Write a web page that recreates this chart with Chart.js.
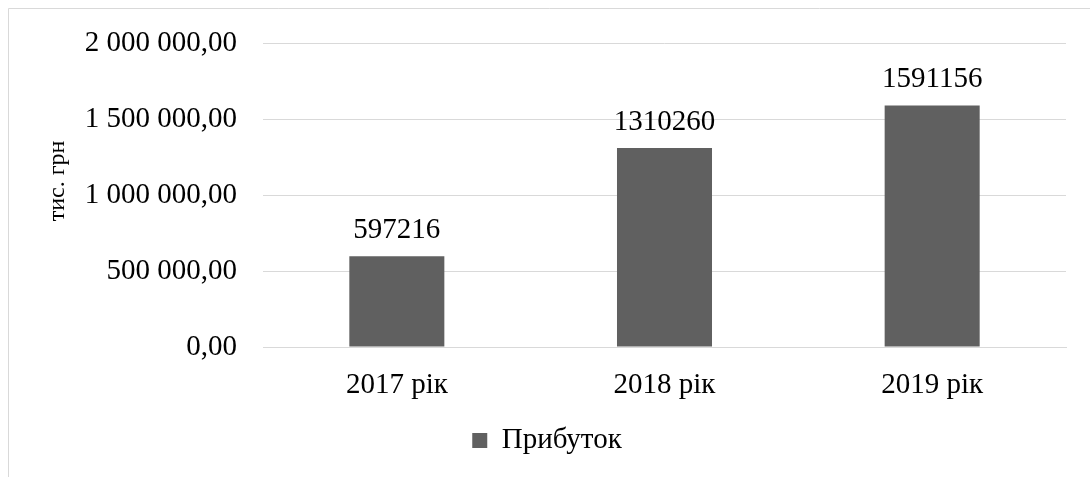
<!DOCTYPE html>
<html>
<head>
<meta charset="utf-8">
<script src="https://cdn.jsdelivr.net/npm/chart.js@4/dist/chart.umd.min.js"></script>
<style>
  html, body { margin: 0; padding: 0; background: #ffffff; overflow: hidden; }
  #wrap { position: relative; width: 1090px; height: 477px; }
</style>
</head>
<body>
<div id="wrap"><canvas id="chart" width="1090" height="477"></canvas></div>
<script>
// Profit by year, thousand UAH
const categories = ['2017 рік', '2018 рік', '2019 рік'];
const profit = [597216, 1310260, 1591156];
const seriesName = 'Прибуток';
const axisTitle = 'тис. грн';
const yMin = 0;
const yMax = 2000000;
const yStep = 500000;

const FONT = '"Liberation Serif", "Times New Roman", serif';
const GRID = '#d9d9d9';
const BAR = '#606060';

function fmtTick(v) {
  return Math.round(v).toString().replace(/\B(?=(\d{3})+(?!\d))/g, ' ') + ',00';
}

// Thin frame along the top and left edges
const framePlugin = {
  id: 'frame',
  beforeDraw(chart) {
    const ctx = chart.ctx;
    ctx.save();
    ctx.fillStyle = '#ffffff';
    ctx.fillRect(0, 0, chart.width, chart.height);
    ctx.strokeStyle = GRID;
    ctx.lineWidth = 1;
    ctx.beginPath();
    ctx.moveTo(8.5, chart.height);
    ctx.lineTo(8.5, 8.5);
    ctx.lineTo(chart.width, 8.5);
    ctx.stroke();
    ctx.restore();
  }
};

// Legend sits centred under the whole page rather than under the plot
const legendShift = {
  id: 'legendShift',
  afterLayout(chart) {
    if (chart.legend) {
      chart.legend.left += 14;
      chart.legend.right += 14;
    }
  }
};

// Rotated value-axis caption
const axisCaption = {
  id: 'axisCaption',
  afterDraw(chart) {
    const ctx = chart.ctx;
    ctx.save();
    ctx.translate(58, 181);
    ctx.rotate(-Math.PI / 2);
    ctx.font = '24px ' + FONT;
    ctx.fillStyle = '#000000';
    ctx.textAlign = 'center';
    ctx.textBaseline = 'middle';
    ctx.fillText(axisTitle, 0, 0);
    ctx.restore();
  }
};

// Value labels above each bar
const valueLabels = {
  id: 'valueLabels',
  afterDatasetsDraw(chart) {
    const ctx = chart.ctx;
    const meta = chart.getDatasetMeta(0);
    const data = chart.data.datasets[0].data;
    ctx.save();
    ctx.font = '29px ' + FONT;
    ctx.fillStyle = '#000000';
    ctx.textAlign = 'center';
    ctx.textBaseline = 'alphabetic';
    meta.data.forEach((bar, i) => {
      ctx.fillText(String(data[i]), bar.x, bar.y - 18);
    });
    ctx.restore();
  }
};

new Chart(document.getElementById('chart'), {
  type: 'bar',
  data: {
    labels: categories,
    datasets: [{
      label: seriesName,
      data: profit,
      backgroundColor: BAR,
      borderWidth: 0,
      barPercentage: 0.355,
      categoryPercentage: 1.0
    }]
  },
  options: {
    responsive: false,
    animation: false,
    devicePixelRatio: 1,
    layout: { autoPadding: false, padding: { left: 0, right: 24, top: 38, bottom: 12 } },
    plugins: {
      legend: {
        position: 'bottom',
        labels: {
          font: { family: FONT, size: 29 },
          color: '#000000',
          boxWidth: 15,
          boxHeight: 15,
          padding: 10
        }
      },
      tooltip: { enabled: false }
    },
    scales: {
      x: {
        grid: { display: false },
        border: { display: true, color: GRID, width: 1 },
        ticks: {
          font: { family: FONT, size: 29 },
          color: '#000000',
          padding: 13
        },
        afterFit(scale) { scale.height = 69; }
      },
      y: {
        min: yMin,
        max: yMax,
        grid: { color: GRID, lineWidth: 1, drawTicks: false },
        border: { display: false },
        ticks: {
          stepSize: yStep,
          font: { family: FONT, size: 29 },
          color: '#000000',
          padding: 26,
          callback: (v) => fmtTick(v)
        },
        afterFit(scale) { scale.width = 263; }
      }
    }
  },
  plugins: [framePlugin, legendShift, axisCaption, valueLabels]
});
</script>
</body>
</html>
